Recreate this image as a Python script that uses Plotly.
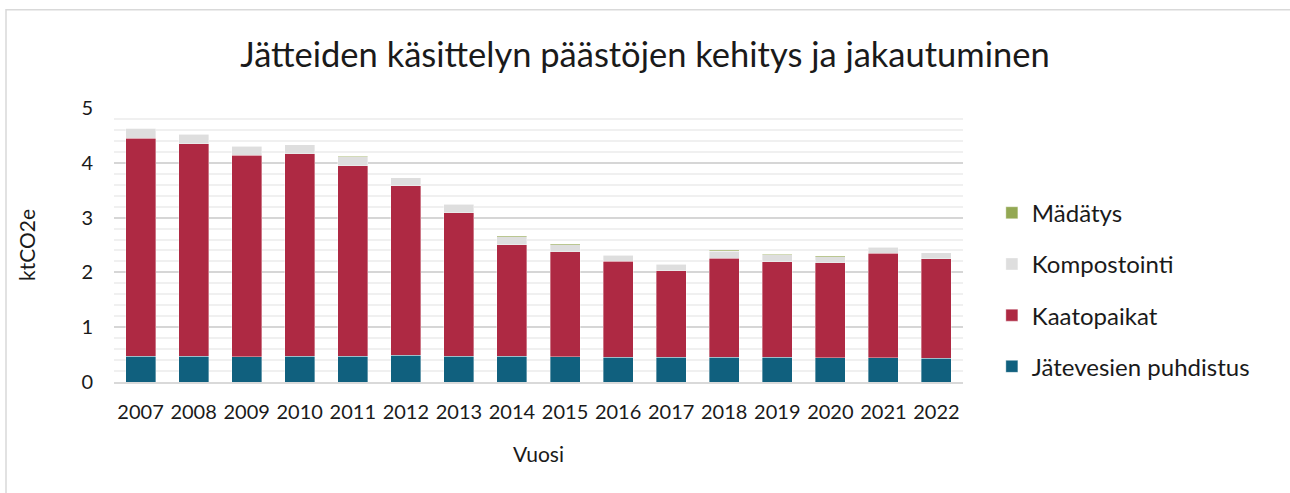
import plotly.graph_objects as go

years = ["2007", "2008", "2009", "2010", "2011", "2012", "2013", "2014",
         "2015", "2016", "2017", "2018", "2019", "2020", "2021", "2022"]
jatevesi = [0.47, 0.47, 0.46, 0.47, 0.47, 0.49, 0.47, 0.47, 0.46, 0.45, 0.45, 0.45, 0.45, 0.44, 0.44, 0.43]
kaatopaikat = [3.975, 3.88, 3.68, 3.695, 3.48, 3.09, 2.62, 2.035, 1.92, 1.75, 1.58, 1.81, 1.74, 1.74, 1.91, 1.815]
kompostointi = [0.185, 0.175, 0.165, 0.16, 0.165, 0.145, 0.15, 0.15, 0.125, 0.11, 0.115, 0.125, 0.135, 0.11, 0.11, 0.11]
madatys = [0.005, 0.005, 0.005, 0.005, 0.005, 0.005, 0.01, 0.015, 0.015, 0.01, 0.015, 0.015, 0.01, 0.01, 0.01, 0.005]

series = [
    ("Jätevesien puhdistus", jatevesi, "#10607E", 4),
    ("Kaatopaikat", kaatopaikat, "#AE2943", 3),
    ("Kompostointi", kompostointi, "#DEDEDE", 2),
    ("Mädätys", madatys, "#93A853", 1),
]

FONT = "Lato"
fig = go.Figure()
for name, vals, col, rank in series:
    fig.add_trace(go.Bar(
        x=years, y=vals, name=name, legendgroup=name, legendrank=rank,
        marker=dict(color=col, line=dict(color="rgba(255,255,255,0.6)", width=0.6)),
    ))

fig.update_layout(
    width=1290, height=493,
    barmode="stack", bargap=0.434,
    paper_bgcolor="white", plot_bgcolor="white",
    margin=dict(l=114, r=327, t=108, b=111),
    font=dict(family=FONT, color="#1a1a1a", size=20),
    title=dict(text="Jätteiden käsittelyn päästöjen kehitys ja jakautuminen",
               x=0.5, xanchor="center", xref="container", y=0.888, yanchor="middle",
               font=dict(family=FONT, size=34.5, color="#1a1a1a")),
    legend=dict(x=1.034, xanchor="left", y=0.337, yanchor="middle",
                traceorder="grouped", tracegroupgap=17,
                font=dict(family=FONT, size=24, color="#1a1a1a"),
                bgcolor="rgba(0,0,0,0)"),
    xaxis=dict(title=dict(text="Vuosi", font=dict(size=21), standoff=26),
               showgrid=False, ticks="", showline=True, linecolor="#D9D9D9", linewidth=1.5,
               tickfont=dict(size=20), ticklabelstandoff=11),
    yaxis=dict(title=dict(text="ktCO2e", font=dict(size=21), standoff=40),
               range=[0, 5], dtick=1, tick0=0,
               showgrid=True, gridcolor="#D6D6D6", gridwidth=1.5,
               zeroline=False, showline=False, ticks="",
               tickfont=dict(size=20), ticklabelstandoff=20,
               minor=dict(dtick=0.2, tick0=0, showgrid=True, gridcolor="#F0F0F0", gridwidth=1.5)),
    shapes=[dict(type="rect", xref="paper", yref="paper",
                 x0=-0.1272, x1=1.40, y0=-0.45, y1=1.3588,
                 line=dict(color="#D9D9D9", width=1.5), fillcolor="rgba(0,0,0,0)", layer="below")],
)

fig.write_html("out.html", config={"displayModeBar": False},
               post_script="document.body.style.margin='0';")
